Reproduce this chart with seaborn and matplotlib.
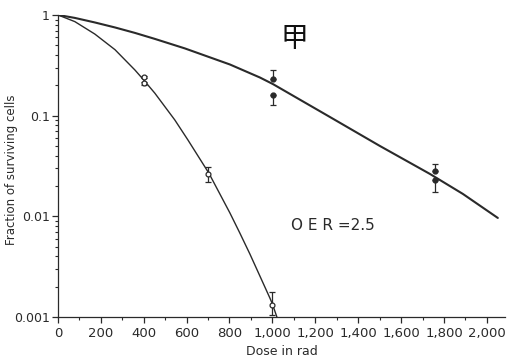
import numpy as np
import pandas as pd
import matplotlib
matplotlib.use("Agg")
import matplotlib.pyplot as plt
import seaborn as sns
from matplotlib.ticker import FixedLocator, LogLocator, NullFormatter

# ---- data ----
# smooth survival curves
oxic_dose = [0, 79, 172, 266, 359, 400, 452, 545, 606, 704, 802, 848, 895, 988, 1000, 1021]
oxic_frac = [1.0, 0.858, 0.646, 0.452, 0.284, 0.226, 0.167, 0.0906, 0.0574, 0.0268,
             0.0108, 0.00684, 0.00423, 0.00155, 0.00135, 0.001]
hyp_dose = [0, 79, 172, 266, 359, 452, 592, 802, 942, 1002, 1268, 1501, 1734, 1888, 2051]
hyp_frac = [1.0, 0.934, 0.842, 0.751, 0.663, 0.578, 0.465, 0.322, 0.239, 0.206, 0.097,
            0.050, 0.0264, 0.0167, 0.00964]

# measured points with error bars
oxic_pt_dose = [400, 400, 700, 1000]
oxic_pt_frac = [0.24, 0.21, 0.0265, 0.00132]
oxic_err_lo = [0.235, 0.20, 0.0221, 0.00105]
oxic_err_hi = [0.25, 0.215, 0.0312, 0.00179]

hyp_pt_dose = [1005, 1005, 1757, 1757]
hyp_pt_frac = [0.231, 0.160, 0.0282, 0.0230]
hyp_err_lo = [0.231, 0.128, 0.0282, 0.0176]
hyp_err_hi = [0.284, 0.160, 0.0330, 0.0230]

x_ticks = [0, 200, 400, 600, 800, 1000, 1200, 1400, 1600, 1800, 2000]
x_ticklabels = ["0", "200", "400", "600", "800", "1,000", "1,200", "1,400", "1,600", "1,800", "2,000"]
y_ticks = [0.001, 0.01, 0.1, 1]
y_ticklabels = ["0.001", "0.01", "0.1", "1"]

sns.set_style("ticks")
plt.rcParams["font.family"] = ["DejaVu Sans", "Noto Sans CJK SC"]

ink = "#2a2a2a"
fig = plt.figure(figsize=(5.17, 3.64), dpi=100)
ax = fig.add_axes([0.112, 0.129, 0.865, 0.830])

curves = pd.concat([
    pd.DataFrame({"dose": hyp_dose, "frac": hyp_frac, "cond": "hypoxic"}),
    pd.DataFrame({"dose": oxic_dose, "frac": oxic_frac, "cond": "oxic"}),
])
sns.lineplot(data=curves, x="dose", y="frac", hue="cond", size="cond",
             sizes={"hypoxic": 1.5, "oxic": 1.0},
             palette={"hypoxic": ink, "oxic": ink},
             sort=False, estimator=None, legend=False, ax=ax)

def err(vals, lo, hi):
    v = np.array(vals)
    return [v - np.array(lo), np.array(hi) - v]

ax.errorbar(oxic_pt_dose, oxic_pt_frac, yerr=err(oxic_pt_frac, oxic_err_lo, oxic_err_hi),
            fmt="o", ms=3.5, mfc="white", mec=ink, mew=0.9, ecolor=ink, elinewidth=0.9,
            capsize=2, capthick=0.9, zorder=5)
ax.errorbar(hyp_pt_dose, hyp_pt_frac, yerr=err(hyp_pt_frac, hyp_err_lo, hyp_err_hi),
            fmt="o", ms=3.5, mfc=ink, mec=ink, ecolor=ink, elinewidth=0.9,
            capsize=2, capthick=0.9, zorder=5)

ax.set_yscale("log")
ax.set_xlim(0, 2085)
ax.set_ylim(0.001, 1)
ax.xaxis.set_major_locator(FixedLocator(x_ticks))
ax.set_xticklabels(x_ticklabels)
ax.xaxis.set_minor_locator(FixedLocator([100 + 200 * i for i in range(10)]))
ax.yaxis.set_major_locator(FixedLocator(y_ticks))
ax.set_yticklabels(y_ticklabels)
ax.yaxis.set_minor_locator(LogLocator(base=10, subs=np.arange(2, 10)))
ax.yaxis.set_minor_formatter(NullFormatter())

ax.tick_params(axis="both", which="major", direction="out", colors=ink, width=0.9)
ax.tick_params(axis="x", which="major", length=4, labelsize=9.5, pad=3)
ax.tick_params(axis="y", which="major", length=4.5, labelsize=9, pad=1.5)
ax.tick_params(axis="both", which="minor", direction="out", colors=ink, length=2.5, width=0.8)
for s in ["top", "right"]:
    ax.spines[s].set_visible(False)
for s in ["left", "bottom"]:
    ax.spines[s].set_color(ink)
    ax.spines[s].set_linewidth(0.9)

ax.set_xlabel("Dose in rad", fontsize=9, color=ink, labelpad=4)
ax.set_ylabel("Fraction of surviving cells", fontsize=8.5, color=ink)
ax.yaxis.set_label_coords(-0.089, 0.487)

ax.text(1085, 0.0082, "O E R =2.5", fontsize=11, color=ink, ha="left", va="center")
ax.text(0.528, 0.919, "甲", transform=ax.transAxes, fontsize=20, color="#111111",
        ha="center", va="center", family=["Noto Sans CJK SC", "DejaVu Sans"])

fig.savefig("out.png", dpi=100, facecolor="white")
